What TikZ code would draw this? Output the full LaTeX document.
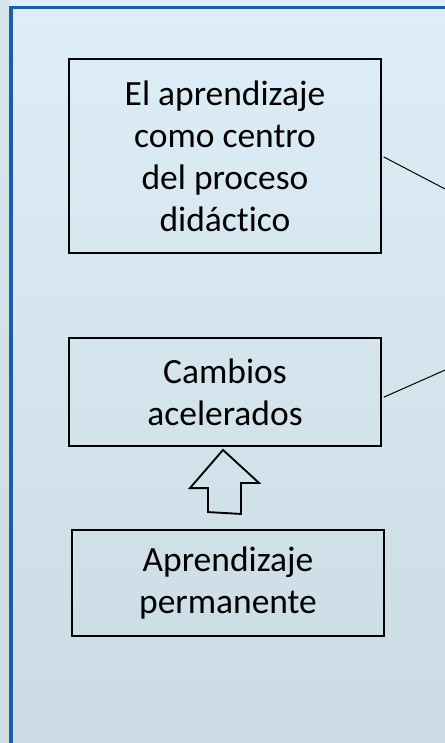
\documentclass[tikz,border=0pt]{standalone}
\usepackage{fontspec}
\setmainfont{Carlito}[Ligatures={NoCommon,NoRare,NoContextual}]
\usepackage{xcolor}
\definecolor{bgtop}{HTML}{DEEEF8}
\definecolor{bgbot}{HTML}{CADBE3}
\definecolor{framebl}{HTML}{1B5EA6}
\tikzset{
  conbox/.style={draw, line width=1.4pt, rectangle, align=center, inner sep=0pt,
    minimum width=234pt, font=\fontsize{26.6}{31.5}\selectfont},
}

\begin{document}
\begin{tikzpicture}[x=0.75pt, y=-0.75pt]
      \useasboundingbox (0, 0) rectangle (445, 743);
      \clip (0, 0) rectangle (445, 743);
      \shade[top color=bgtop, bottom color=bgbot] (0, 0) rectangle (445, 743);
      \fill[bgbot!80!bgtop, opacity=0.5] (0, 0) rectangle (10, 743);
      \draw[framebl, line width=2.4pt] (11, 760) -- (11, 7.5) -- (460, 7.5);

      \node[conbox, minimum height=145.5pt] (B1) at (225, 156) {El aprendizaje\\como centro\\del proceso\\didáctico};
      \node[conbox, minimum height=81pt] (B2) at (225, 392) {Cambios\\acelerados};
      \node[conbox, minimum height=79.5pt] (B3) at (228, 583) {Aprendizaje\\permanente};

      \coordinate (R1) at (470, 202);
      \coordinate (R2) at (470, 359);
      \draw[line width=0.75pt, shorten <=1.5pt] (B1.east) -- (R1);
      \draw[line width=0.75pt, shorten <=1.5pt] ([yshift=-4.5pt]B2.east) -- (R2);

      % block arrow from B3 up to B2
      \draw[line width=1.4pt, line join=miter] ([xshift=-15pt, yshift=12.75pt]B3.north)
        -- ++(0, -24) -- ++(-18, 0) -- ([xshift=-1.5pt, yshift=-2.25pt]B2.south)
        -- ++(36, 33) -- ++(-18, 0) -- ++(0, 31) -- cycle;
\end{tikzpicture}
\end{document}
